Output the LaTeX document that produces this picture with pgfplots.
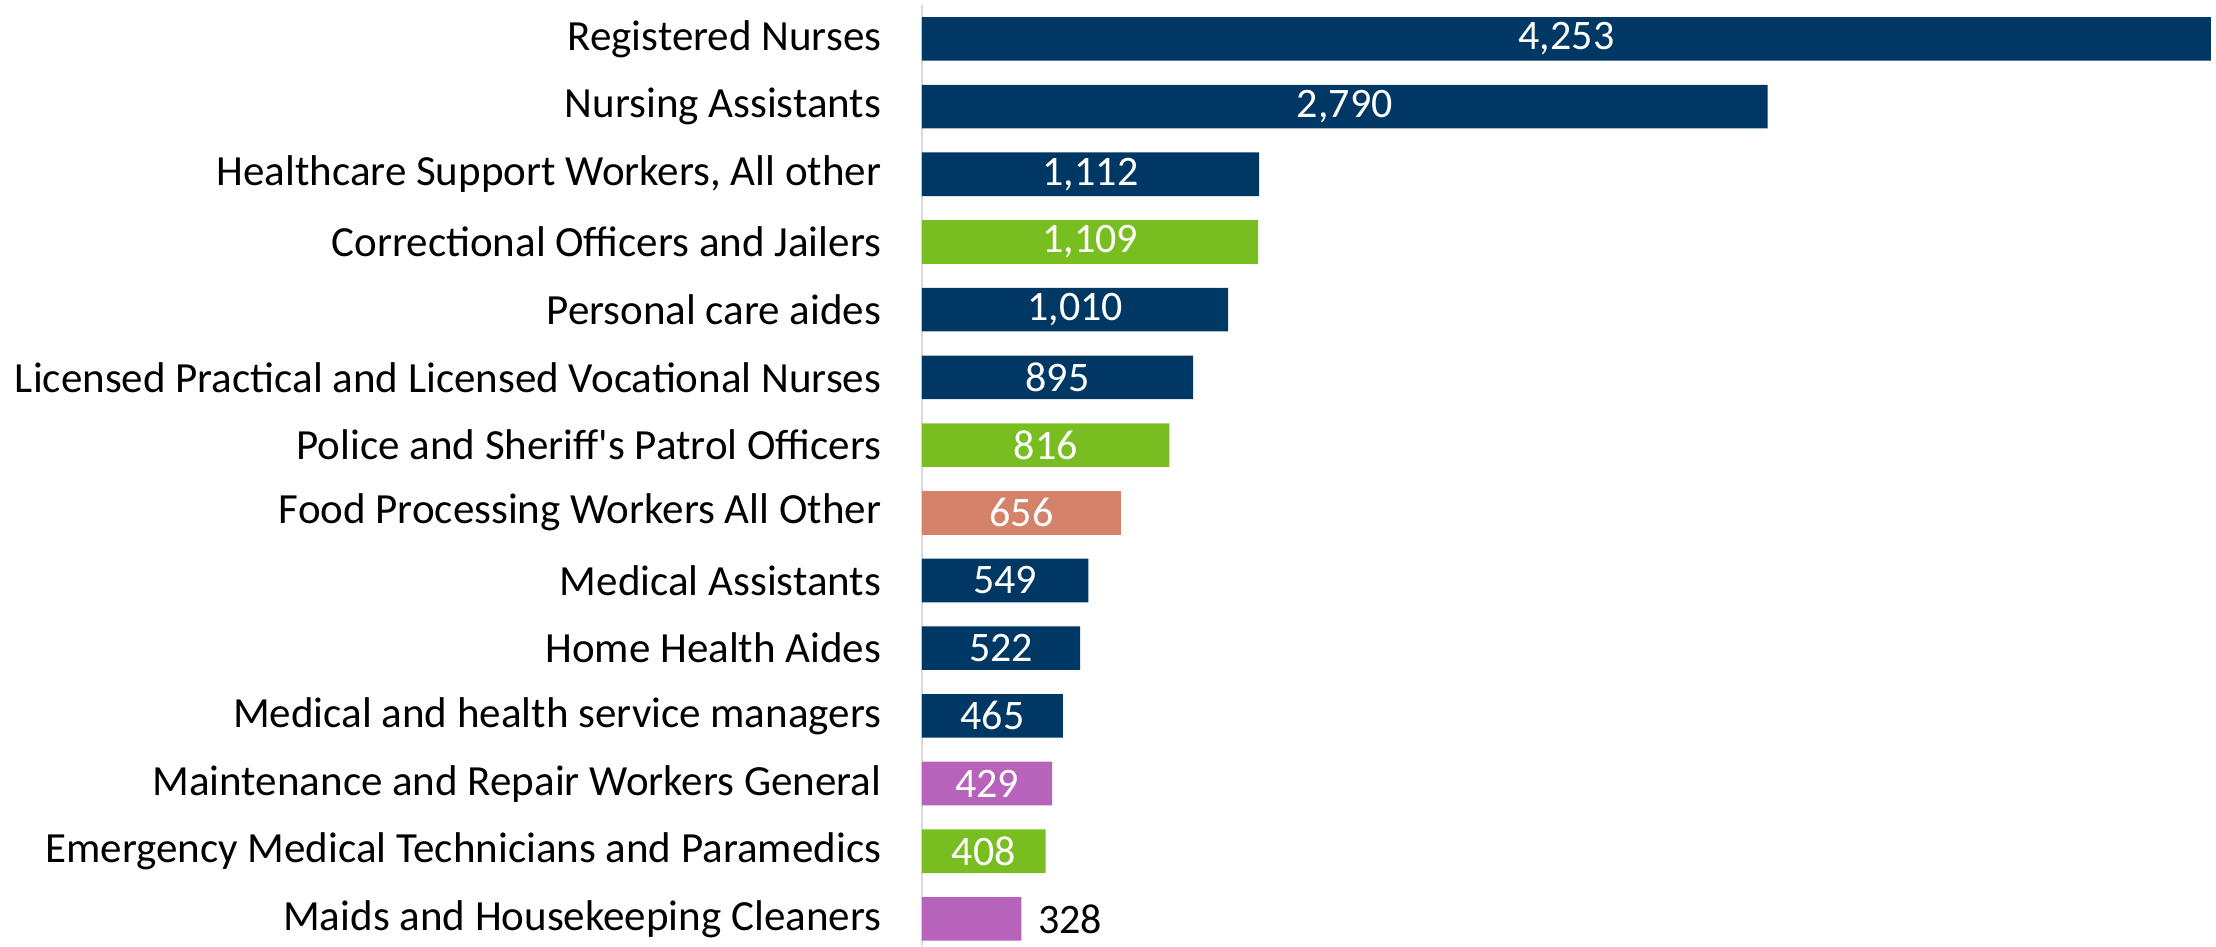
\documentclass[border=0pt]{standalone}
\usepackage{fontspec}
\setmainfont{Carlito}
\usepackage{pgfplots}
\pgfplotsset{compat=1.18}
\usepackage{pgfplotstable}
\definecolor{navy}{RGB}{0,56,101}
\definecolor{grn}{RGB}{120,190,32}
\definecolor{salm}{RGB}{213,130,106}
\definecolor{purp}{RGB}{183,98,187}
\definecolor{axgray}{RGB}{217,217,217}
\pgfplotstableread{
y v lab
0 4253 4,253
1 2790 2,790
2 1112 1,112
3 1109 1,109
4 1010 1,010
5 895 895
6 816 816
7 656 656
8 549 549
9 522 522
10 465 465
11 429 429
12 408 408
}\inside
\begin{document}
\begin{tikzpicture}
\begin{axis}[
  name=ax,
  scale only axis,
  width=323.5pt, height=235.25pt,
  xmin=0, xmax=4269.5,
  ymin=-0.5, ymax=13.4,
  y dir=reverse,
  axis x line=none,
  axis y line*=left,
  y axis line style={draw=axgray, line width=0.5pt},
  xtick=\empty,
  ytick={0,...,13},
  major tick length=0pt,
  yticklabels={Registered Nurses, Nursing Assistants, {Healthcare Support Workers, All other}, Correctional Officers and Jailers, Personal care aides, Licensed Practical and Licensed Vocational Nurses, Police and Sheriff\textquotesingle s Patrol Officers, Food Processing Workers All Other, Medical Assistants, Home Health Aides, Medical and health service managers, Maintenance and Repair Workers General, Emergency Medical Technicians and Paramedics, Maids and Housekeeping Cleaners},
  yticklabel style={font=\fontsize{10.75}{12}\selectfont, inner sep=0pt, anchor=east, xshift=-10pt},
  clip=false,
  xbar, bar width=10.9pt, bar shift=0pt,
]
\addplot[xbar, fill=navy, draw=none] coordinates {(4253,0) (2790,1) (1112,2) (1010,4) (895,5) (549,8) (522,9) (465,10)};
\addplot[xbar, fill=grn, draw=none] coordinates {(1109,3) (816,6) (408,12)};
\addplot[xbar, fill=salm, draw=none] coordinates {(656,7)};
\addplot[xbar, fill=purp, draw=none] coordinates {(429,11) (328,13)};
\addplot[draw=none, mark=none, sharp plot,
  nodes near coords, point meta=explicit symbolic,
  nodes near coords style={anchor=center, text=white, inner sep=0pt, font=\fontsize{10.5}{12}\selectfont}]
  table[x expr=\thisrow{v}/2, y=y, meta=lab] {\inside};
\addplot[draw=none, mark=none, sharp plot,
  nodes near coords, point meta=explicit symbolic,
  nodes near coords style={anchor=west, text=black, inner sep=0pt, xshift=4pt, font=\fontsize{10.5}{12}\selectfont}]
  coordinates {(328,13) [328]};
\end{axis}
\pgfresetboundingbox
\path[use as bounding box] ([xshift=-230.5pt]ax.south west) rectangle ([yshift=1.25pt]ax.north east);
\end{tikzpicture}
\end{document}
